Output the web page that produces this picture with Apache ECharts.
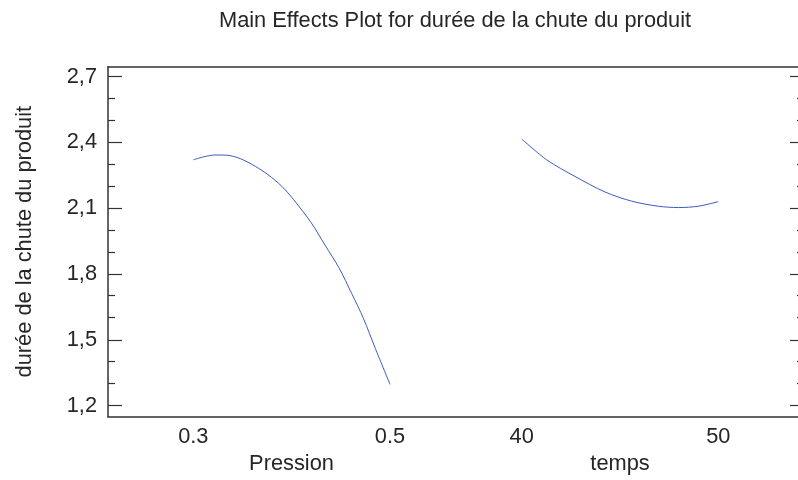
<!DOCTYPE html>
<html>
<head>
<meta charset="utf-8">
<script src="https://cdn.jsdelivr.net/npm/echarts@6/dist/echarts.min.js"></script>
<style>
html,body{margin:0;padding:0;background:#fff;overflow:hidden;}
#chart{width:820px;height:480px;}
</style>
</head>
<body>
<div id="chart"></div>
<script>
// ---- data ----
const pressionValues = [0.300, 0.311, 0.322, 0.334, 0.348, 0.363, 0.376, 0.390, 0.402, 0.420, 0.434, 0.448, 0.461, 0.473, 0.485, 0.500];
const pressionDuree  = [2.320, 2.334, 2.342, 2.341, 2.325, 2.290, 2.252, 2.199, 2.138, 2.032, 1.930, 1.828, 1.710, 1.596, 1.460, 1.295];
const tempsValues = [40, 41.27, 42.71, 44.24, 45.60, 46.95, 47.97, 48.98, 50];
const tempsDuree  = [2.415, 2.320, 2.244, 2.173, 2.131, 2.108, 2.102, 2.108, 2.129];
const yMajorTicks = [1.2, 1.5, 1.8, 2.1, 2.4, 2.7];
const yMinorTicks = [1.3, 1.4, 1.6, 1.7, 1.9, 2.0, 2.2, 2.3, 2.5, 2.6];
const pressionTicks = [0.3, 0.5];
const tempsTicks = [40, 50];
const titleText = 'Main Effects Plot for durée de la chute du produit';
const yName = 'durée de la chute du produit';

const FONT = "'Liberation Sans', Arial, sans-serif";
const TXT = '#262626';
const LINE = '#333333';
const BLUE = '#3b5bbd';
const FS = 21.8;
const Y_MIN = 1.15, Y_MAX = 2.745;
const P_MIN = 0.21327, P_MAX = 0.56711;
const T_MIN = 36.658, T_MAX = 54.359;

const zip = (a, b) => a.map((v, i) => [v, b[i]]);

function xPanel(grid, min, max, ticks, name, pad) {
  return {
    type: 'value', gridIndex: grid, position: 'bottom', min, max,
    axisLine: {show: false, onZero: false},
    axisTick: {show: false},
    splitLine: {show: false},
    axisLabel: {show: true, customValues: ticks, margin: 10, color: TXT, fontFamily: FONT, fontSize: FS,
      formatter: v => String(v)},
    name, nameLocation: 'middle', nameGap: 34,
    nameTextStyle: {color: TXT, fontFamily: FONT, fontSize: FS, padding: pad}
  };
}
function xFrame(grid, pos) {
  return {
    type: 'value', gridIndex: grid, position: pos, min: 0, max: 1,
    axisLine: {show: true, onZero: false, lineStyle: {color: LINE, width: 1.5}},
    axisTick: {show: false}, axisLabel: {show: false}, splitLine: {show: false}
  };
}
function yAx(grid, pos, ticks, len, showLine, showLabel, name) {
  const o = {
    type: 'value', gridIndex: grid, position: pos, min: Y_MIN, max: Y_MAX,
    axisLine: {show: showLine, onZero: false, lineStyle: {color: LINE, width: 1.5}},
    axisTick: {show: true, inside: true, length: len, customValues: ticks, lineStyle: {color: LINE, width: 1.2}},
    splitLine: {show: false},
    axisLabel: {show: showLabel, customValues: ticks, margin: 11, color: TXT, fontFamily: FONT, fontSize: FS,
      formatter: v => v.toFixed(1).replace('.', ',')}
  };
  if (name) {
    o.name = name; o.nameLocation = 'middle'; o.nameGap = 72;
    o.nameTextStyle = {color: TXT, fontFamily: FONT, fontSize: FS};
  }
  return o;
}

const G1 = {left: 108, top: 66.7, width: 348, height: 350};
const G2 = {left: 456, top: 66.7, width: 348, height: 350};
const GF = {left: 108, top: 66.7, width: 696, height: 350};

const chart = echarts.init(document.getElementById('chart'), null, {renderer: 'canvas'});
chart.setOption({
  animation: false,
  backgroundColor: '#ffffff',
  title: {
    text: titleText, left: 219, top: 10, padding: 0,
    textStyle: {color: TXT, fontFamily: FONT, fontSize: FS, fontWeight: 'normal'}
  },
  grid: [G1, G2, GF],
  xAxis: [
    xPanel(0, P_MIN, P_MAX, pressionTicks, 'Pression', [0, 0, 0, 19]),
    xPanel(1, T_MIN, T_MAX, tempsTicks, 'temps', [0, 20, 0, 0]),
    xFrame(2, 'bottom'),
    xFrame(2, 'top')
  ],
  yAxis: [
    yAx(0, 'left', yMinorTicks, 7, false, false),
    yAx(1, 'right', yMinorTicks, 7, false, false),
    yAx(2, 'left', yMajorTicks, 14, true, true, yName),
    yAx(2, 'right', yMajorTicks, 14, true, false)
  ],
  series: [
    {type: 'line', xAxisIndex: 0, yAxisIndex: 0, data: zip(pressionValues, pressionDuree),
     smooth: 0.3, showSymbol: false, lineStyle: {color: BLUE, width: 1}},
    {type: 'line', xAxisIndex: 1, yAxisIndex: 1, data: zip(tempsValues, tempsDuree),
     smooth: 0.3, showSymbol: false, lineStyle: {color: BLUE, width: 1}}
  ]
});
</script>
</body>
</html>
